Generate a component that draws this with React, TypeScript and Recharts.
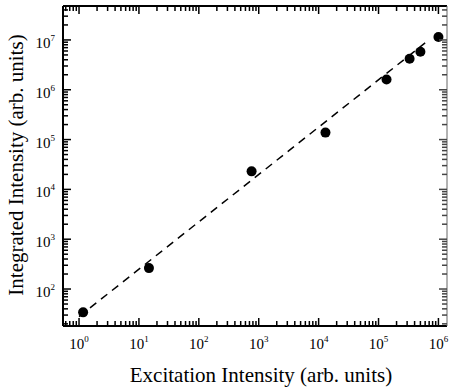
import { ScatterChart, Scatter, XAxis, YAxis } from "recharts";

const excitation = [1.17, 14.7, 760, 1.3e4, 1.36e5, 3.3e5, 5.0e5, 1.0e6];
const integrated = [34, 263, 2.3e4, 1.38e5, 1.6e6, 4.2e6, 5.8e6, 1.15e7];

// dashed fit line end points
const fitX = [1, 6.0e5];
const fitY = [28, 8.7e6];

const xDomain = [0.54, 1.39e6];
const yDomain = [18.1, 4.8e7];
const xExponents = [-1, 0, 1, 2, 3, 4, 5, 6];
const yExponents = [1, 2, 3, 4, 5, 6, 7];
const minorSteps = [1, 2, 3, 4, 5, 6, 7, 8, 9];

const FONT = "'Liberation Serif', 'Times New Roman', serif";

const points = excitation.map((x, i) => ({ x, y: integrated[i] }));
const fitLine = fitX.map((x, i) => ({ x, y: fitY[i] }));

function logTicks(exps: number[], domain: number[]) {
  const out: number[] = [];
  exps.forEach((e) => {
    minorSteps.forEach((m) => {
      const v = m * Math.pow(10, e);
      if (v >= domain[0] && v <= domain[1]) out.push(v);
    });
  });
  return out;
}

const xTicks = logTicks(xExponents, xDomain);
const yTicks = logTicks(yExponents, yDomain);

function decade(v: number) {
  const l = Math.log10(v);
  const r = Math.round(l);
  return Math.abs(l - r) < 1e-6 ? r : null;
}

// inward tick marks, long at decades, short in between; labels only bottom/left
function TickMark(props: any) {
  const { x, y, payload, side } = props;
  const exp = decade(payload.value);
  const len = exp !== null ? 8 : 5;
  const col = side === "right" ? "#444" : "#000";
  let line;
  if (side === "bottom") line = <line x1={x} x2={x} y1={y} y2={y - len} stroke={col} strokeWidth={1.5} />;
  else if (side === "top") line = <line x1={x} x2={x} y1={y} y2={y + len} stroke={col} strokeWidth={1.5} />;
  else if (side === "left") line = <line x1={x} x2={x + len} y1={y} y2={y} stroke={col} strokeWidth={1.5} />;
  else line = <line x1={x} x2={x - len} y1={y} y2={y} stroke={col} strokeWidth={1.5} />;
  return (
    <g>
      {line}
      {exp !== null && side === "bottom" && (
        <text x={x} y={y + 23} textAnchor="middle" fontFamily={FONT} fontSize={15} fill="#000">
          10<tspan dy={-7} fontSize={9}>{exp}</tspan>
        </text>
      )}
      {exp !== null && side === "left" && (
        <text x={x - 8} y={y + 8} textAnchor="end" fontFamily={FONT} fontSize={15} fill="#000">
          10<tspan dy={-7} fontSize={9}>{exp}</tspan>
        </text>
      )}
    </g>
  );
}

export default function App() {
  return (
    <div style={{ position: "absolute", left: 0, top: 0 }}>
      <ScatterChart width={449} height={392} margin={{ top: 5, right: 1, bottom: 0, left: 0 }}>
        <XAxis
          dataKey="x"
          type="number"
          scale="log"
          domain={xDomain}
          allowDataOverflow
          ticks={xTicks}
          interval={0}
          height={66}
          tickSize={0}
          tickMargin={0}
          tickLine={false}
          axisLine={{ stroke: "#000", strokeWidth: 2 }}
          tick={<TickMark side="bottom" />}
          label={() => (
            <text x={261} y={382} textAnchor="middle" fontFamily={FONT} fontSize={21} fill="#000">
              Excitation Intensity (arb. units)
            </text>
          )}
        />
        <XAxis
          xAxisId="top"
          dataKey="x"
          orientation="top"
          type="number"
          scale="log"
          domain={xDomain}
          allowDataOverflow
          ticks={xTicks}
          interval={0}
          height={1}
          tickSize={0}
          tickMargin={0}
          tickLine={false}
          axisLine={{ stroke: "#000", strokeWidth: 2 }}
          tick={<TickMark side="top" />}
        />
        <YAxis
          dataKey="y"
          type="number"
          scale="log"
          domain={yDomain}
          allowDataOverflow
          ticks={yTicks}
          interval={0}
          width={63}
          tickSize={0}
          tickMargin={0}
          tickLine={false}
          axisLine={{ stroke: "#000", strokeWidth: 2 }}
          tick={<TickMark side="left" />}
          label={() => (
            <text
              x={23}
              y={165}
              transform="rotate(-90, 23, 165)"
              textAnchor="middle"
              fontFamily={FONT}
              fontSize={21}
              fill="#000"
            >
              Integrated Intensity (arb. units)
            </text>
          )}
        />
        <YAxis
          yAxisId="right"
          dataKey="y"
          orientation="right"
          type="number"
          scale="log"
          domain={yDomain}
          allowDataOverflow
          ticks={yTicks}
          interval={0}
          width={1}
          tickSize={0}
          tickMargin={0}
          tickLine={false}
          axisLine={{ stroke: "#666", strokeWidth: 1 }}
          tick={<TickMark side="right" />}
        />
        <Scatter
          data={fitLine}
          fill="none"
          line={{ stroke: "#000", strokeWidth: 1.5, strokeDasharray: "8 6" }}
          shape={() => <g />}
          isAnimationActive={false}
        />
        <Scatter
          data={points}
          fill="#000"
          shape={(p: any) => <circle cx={p.cx} cy={p.cy} r={5} fill="#000" />}
          isAnimationActive={false}
        />
        {/* empty series so the top and right frame axes get drawn */}
        <Scatter
          xAxisId="top"
          yAxisId="right"
          data={points}
          shape={() => <g />}
          legendType="none"
          isAnimationActive={false}
        />
      </ScatterChart>
    </div>
  );
}
